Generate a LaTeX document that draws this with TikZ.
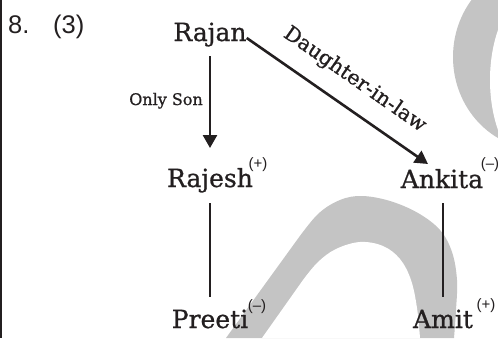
\documentclass[tikz,border=0pt]{standalone}
\usepackage{fontspec}
\setmainfont{DejaVu Serif}[FakeBold=0.8]
\newfontfamily\arialf{Liberation Sans}
\usetikzlibrary{arrows.meta,calc}
\definecolor{ink}{RGB}{35,31,32}
\definecolor{wm}{RGB}{196,196,196}
\begin{document}
\begin{tikzpicture}[x=1pt,y=-1pt,
  pname/.style={font=\fontsize{25}{25}\selectfont, text=ink, inner sep=0pt},
  num/.style={font=\arialf\fontsize{25.5}{25.5}\selectfont, text=ink, inner sep=0pt},
  supmark/.style={font=\arialf\fontsize{15}{15}\selectfont, text=ink, inner sep=0pt},
  rel/.style={text=ink, inner sep=0pt},
  conn/.style={draw=ink, line width=2.6pt},
  arr/.style={conn, -{Triangle[width=14pt,length=13pt]}}]
\useasboundingbox (0,0) rectangle (498,338);
\fill[white] (0,0) rectangle (498,338);
% watermark
\begin{scope}
\clip (0,0) rectangle (498,338);
\fill[wm] (226,338) -- plot[smooth, tension=0.6] coordinates {(297,240) (318,214) (340,200) (362,196) (390,201) (418,213) (440,230) (452,252) (457,280) (456,310) (454,338)} -- cycle;
\fill[white] (262,338) -- plot[smooth, tension=0.6] coordinates {(303,280) (318,262) (336,249) (360,242) (383,246) (400,259) (411,280) (417,308) (420,338)} -- cycle;
\fill[wm] (540,57) ellipse [x radius=87pt, y radius=92.5pt];
\fill[white] (540,80) ellipse [x radius=50pt, y radius=92pt];
\end{scope}
% left border
\draw[ink, line width=2pt] (1,0) -- (1,338);
% texts
\node[num, anchor=base west] (qn) at (8,33) {8.};
\node[num, anchor=base west] (ans) at (53,33) {(3)};
\node[pname, anchor=base] (rajan) at (210,41) {Rajan};
\node[pname, anchor=base] (rajesh) at (210,187) {Rajesh};
\node[pname, anchor=base] (ankita) at (442,188) {Ankita};
\node[pname, anchor=base] (preeti) at (210,328) {Preeti};
\node[pname, anchor=base] (amit) at (443,328) {Amit};
\node[supmark] (rajeshs) at (258,165) {(+)};
\node[supmark] (ankitas) at (490,165) {(–)};
\node[supmark] (preetis) at (257,306.5) {(–)};
\node[supmark] (amits) at (486,305.5) {(+)};
\node[rel, font=\fontsize{16}{16}\selectfont, anchor=base east] (onlyson) at (203,105) {Only Son};
% connectors
\draw[arr] ($(rajan.base)+(0,15)$) -- ($(rajesh.base)+(0,-39)$);
\draw[conn] ($(rajesh.base)+(0,16)$) -- ($(preeti.base)+(0,-31)$);
\draw[conn] ($(ankita.base)+(1,15)$) -- ($(amit.base)+(0,-31)$);
\draw[arr] ($(rajan.base east)+(0,-3)$) -- node[rel, font=\fontsize{20.5}{20.5}\selectfont, sloped, above=16pt, pos=0.51] (dil) {Daughter-in-law} ($(ankita.base)+(-14,-24)$);
\end{tikzpicture}
\end{document}
